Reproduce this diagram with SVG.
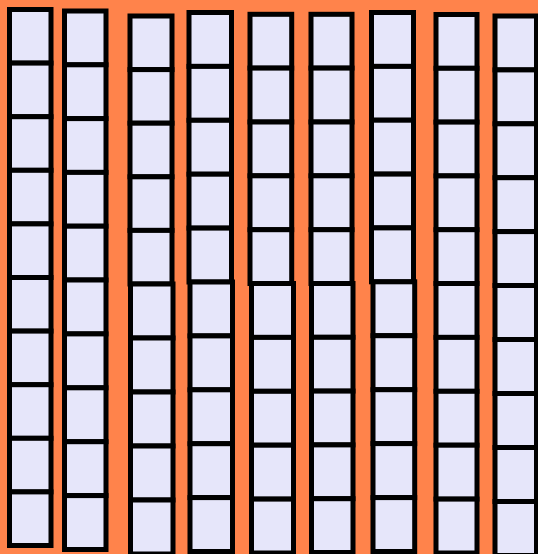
<svg xmlns="http://www.w3.org/2000/svg" width="538" height="554" viewBox="0 0 538 554">
<style>
.c{fill:#E6E6FA;stroke:#000;stroke-width:5}
</style>
<rect x="0" y="0" width="538" height="554" fill="#FF834B"/>
<g id="col1">
<rect class="c" x="9.5" y="9.5" width="41.5" height="53.6"/>
<rect class="c" x="9.5" y="63.1" width="41.5" height="53.6"/>
<rect class="c" x="9.5" y="116.7" width="41.5" height="53.6"/>
<rect class="c" x="9.5" y="170.3" width="41.5" height="53.6"/>
<rect class="c" x="9.5" y="223.9" width="41.5" height="53.6"/>
<rect class="c" x="9.5" y="277.5" width="41.5" height="53.6"/>
<rect class="c" x="9.5" y="331.1" width="41.5" height="53.6"/>
<rect class="c" x="9.5" y="384.7" width="41.5" height="53.6"/>
<rect class="c" x="9.5" y="438.3" width="41.5" height="53.6"/>
<rect class="c" x="9.5" y="491.9" width="41.5" height="53.6"/>
</g>
<g id="col2">
<rect class="c" x="64.5" y="11" width="41.5" height="53.8"/>
<rect class="c" x="64.5" y="64.8" width="41.5" height="53.8"/>
<rect class="c" x="64.5" y="118.6" width="41.5" height="53.8"/>
<rect class="c" x="64.5" y="172.4" width="41.5" height="53.8"/>
<rect class="c" x="64.5" y="226.2" width="41.5" height="53.8"/>
<rect class="c" x="64.5" y="280" width="41.5" height="53.9"/>
<rect class="c" x="64.5" y="333.9" width="41.5" height="53.9"/>
<rect class="c" x="64.5" y="387.8" width="41.5" height="53.9"/>
<rect class="c" x="64.5" y="441.7" width="41.5" height="53.9"/>
<rect class="c" x="64.5" y="495.6" width="41.5" height="53.9"/>
</g>
<g id="col3">
<rect class="c" x="130" y="16" width="42" height="53.6"/>
<rect class="c" x="130" y="69.6" width="42" height="53.6"/>
<rect class="c" x="130" y="123.2" width="42" height="53.6"/>
<rect class="c" x="130" y="176.8" width="42" height="53.6"/>
<rect class="c" x="130" y="230.4" width="42" height="53.6"/>
<rect class="c" x="130.5" y="284" width="42.5" height="54"/>
<rect class="c" x="130.5" y="338" width="42.5" height="54"/>
<rect class="c" x="130.5" y="392" width="42.5" height="54"/>
<rect class="c" x="130.5" y="446" width="42.5" height="54"/>
<rect class="c" x="130.5" y="500" width="42.5" height="54"/>
</g>
<g id="col4">
<rect class="c" x="189" y="12.5" width="42.5" height="53.9"/>
<rect class="c" x="189" y="66.4" width="42.5" height="53.9"/>
<rect class="c" x="189" y="120.3" width="42.5" height="53.9"/>
<rect class="c" x="189" y="174.2" width="42.5" height="53.9"/>
<rect class="c" x="189" y="228.1" width="42.5" height="53.9"/>
<rect class="c" x="190" y="282" width="42.5" height="53.9"/>
<rect class="c" x="190" y="335.9" width="42.5" height="53.9"/>
<rect class="c" x="190" y="389.8" width="42.5" height="53.9"/>
<rect class="c" x="190" y="443.7" width="42.5" height="53.9"/>
<rect class="c" x="190" y="497.6" width="42.5" height="53.9"/>
</g>
<g id="col5">
<rect class="c" x="250" y="14.3" width="41.7" height="53.8"/>
<rect class="c" x="250" y="68.1" width="41.7" height="53.9"/>
<rect class="c" x="250" y="122" width="41.7" height="53.8"/>
<rect class="c" x="250" y="175.8" width="41.7" height="53.9"/>
<rect class="c" x="250" y="229.7" width="41.7" height="53.8"/>
<rect class="c" x="251.5" y="283.5" width="42" height="53.9"/>
<rect class="c" x="251.5" y="337.4" width="42" height="53.9"/>
<rect class="c" x="251.5" y="391.3" width="42" height="53.9"/>
<rect class="c" x="251.5" y="445.2" width="42" height="53.9"/>
<rect class="c" x="251.5" y="499.1" width="42" height="53.9"/>
</g>
<g id="col6">
<rect class="c" x="311" y="14.3" width="41" height="53.8"/>
<rect class="c" x="311" y="68.1" width="41" height="53.9"/>
<rect class="c" x="311" y="122" width="41" height="53.8"/>
<rect class="c" x="311" y="175.8" width="41" height="53.9"/>
<rect class="c" x="311" y="229.7" width="41" height="53.8"/>
<rect class="c" x="311.5" y="283.5" width="41.5" height="53.8"/>
<rect class="c" x="311.5" y="337.3" width="41.5" height="53.8"/>
<rect class="c" x="311.5" y="391.1" width="41.5" height="53.8"/>
<rect class="c" x="311.5" y="444.9" width="41.5" height="53.8"/>
<rect class="c" x="311.5" y="498.7" width="41.5" height="53.8"/>
</g>
<g id="col7">
<rect class="c" x="371.5" y="12.5" width="42" height="53.9"/>
<rect class="c" x="371.5" y="66.4" width="42" height="53.8"/>
<rect class="c" x="371.5" y="120.2" width="42" height="53.9"/>
<rect class="c" x="371.5" y="174.1" width="42" height="53.8"/>
<rect class="c" x="371.5" y="227.9" width="42" height="53.9"/>
<rect class="c" x="373" y="281.8" width="41.7" height="53.9"/>
<rect class="c" x="373" y="335.7" width="41.7" height="54"/>
<rect class="c" x="373" y="389.7" width="41.7" height="53.9"/>
<rect class="c" x="373" y="443.6" width="41.7" height="54"/>
<rect class="c" x="373" y="497.6" width="41.7" height="53.9"/>
</g>
<g id="col8">
<rect class="c" x="436" y="14.5" width="41" height="53.8"/>
<rect class="c" x="436" y="68.3" width="41" height="53.8"/>
<rect class="c" x="436" y="122.1" width="41" height="53.8"/>
<rect class="c" x="436" y="175.9" width="41" height="53.8"/>
<rect class="c" x="436" y="229.7" width="41" height="53.8"/>
<rect class="c" x="436" y="283.5" width="41" height="53.9"/>
<rect class="c" x="436" y="337.4" width="41" height="53.9"/>
<rect class="c" x="436" y="391.3" width="41" height="53.9"/>
<rect class="c" x="436" y="445.2" width="41" height="53.9"/>
<rect class="c" x="436" y="499.1" width="41" height="53.9"/>
</g>
<g id="col9">
<rect class="c" x="495" y="16" width="41.5" height="53.9"/>
<rect class="c" x="495" y="69.9" width="41.5" height="53.9"/>
<rect class="c" x="495" y="123.8" width="41.5" height="53.9"/>
<rect class="c" x="495" y="177.7" width="41.5" height="53.9"/>
<rect class="c" x="495" y="231.6" width="41.5" height="53.9"/>
<rect class="c" x="495" y="285.5" width="41.5" height="54"/>
<rect class="c" x="495" y="339.5" width="41.5" height="54"/>
<rect class="c" x="495" y="393.5" width="41.5" height="54"/>
<rect class="c" x="495" y="447.5" width="41.5" height="54"/>
<rect class="c" x="495" y="501.5" width="41.5" height="54"/>
</g>
</svg>
